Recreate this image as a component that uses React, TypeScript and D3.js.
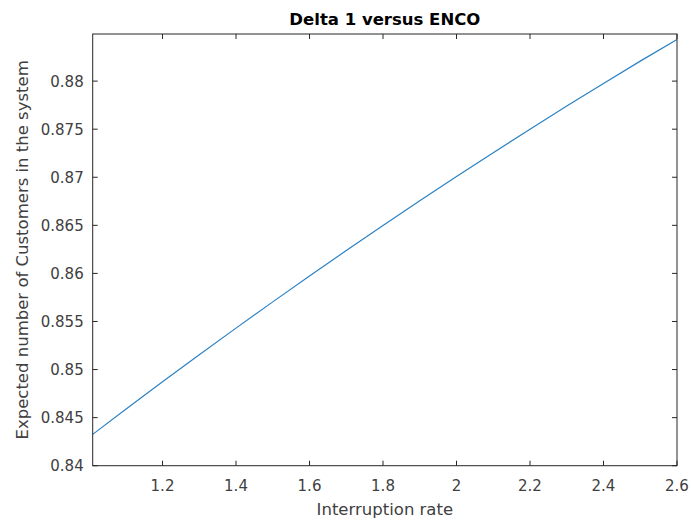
import React, { useEffect, useRef } from 'react';
import * as d3 from 'd3';

// Interruption rate (x) and expected number of customers (y)
const rates = [1.01, 1.1, 1.2, 1.3, 1.4, 1.5, 1.6, 1.7, 1.8, 1.9, 2.0, 2.1, 2.2, 2.3, 2.4, 2.5, 2.6];
const customers = [
  0.84326, 0.84588, 0.84873, 0.85154, 0.85431, 0.85704, 0.85973, 0.86238, 0.86499,
  0.86756, 0.87008, 0.87256, 0.875, 0.8774, 0.87976, 0.88208, 0.88432,
];
const xTicks = [1.2, 1.4, 1.6, 1.8, 2, 2.2, 2.4, 2.6];
const yTicks = [0.84, 0.845, 0.85, 0.855, 0.86, 0.865, 0.87, 0.875, 0.88];

const App = () => {
  const ref = useRef<SVGSVGElement>(null);

  useEffect(() => {
    document.body.style.margin = '0';
    const svg = d3.select(ref.current);
    svg.selectAll('*').remove();

    const width = 691;
    const height = 525;
    const left = 92.7, right = 677, top = 34, bottom = 465.7;
    const font = '"DejaVu Sans", Verdana, sans-serif';
    const axisColor = '#262626';
    const textColor = '#404040';

    const x = d3.scaleLinear().domain([1.01, 2.6]).range([left, right]);
    const y = d3.scaleLinear().domain([0.84, 0.8849]).range([bottom, top]);

    svg.append('rect').attr('width', width).attr('height', height).attr('fill', 'white');

    // data line
    const line = d3.line<number>()
      .x((_, i) => x(rates[i]))
      .y(d => y(d))
      .curve(d3.curveMonotoneX);
    svg.append('path')
      .datum(customers)
      .attr('d', line)
      .attr('fill', 'none')
      .attr('stroke', '#2a82c4')
      .attr('stroke-width', 1.2);

    // box
    svg.append('rect')
      .attr('x', left).attr('y', top)
      .attr('width', right - left).attr('height', bottom - top)
      .attr('fill', 'none')
      .attr('stroke', axisColor)
      .attr('stroke-width', 1);

    const tl = 5;
    // x ticks (bottom & top, inward)
    xTicks.forEach(t => {
      const px = x(t);
      svg.append('line').attr('x1', px).attr('x2', px).attr('y1', bottom).attr('y2', bottom - tl)
        .attr('stroke', axisColor);
      svg.append('line').attr('x1', px).attr('x2', px).attr('y1', top).attr('y2', top + tl)
        .attr('stroke', axisColor);
      svg.append('text')
        .attr('x', px).attr('y', bottom + 25)
        .attr('text-anchor', 'middle')
        .attr('font-family', font).attr('font-size', 15)
        .attr('fill', textColor)
        .text(d3.format('~g')(t));
    });

    // y ticks (left & right, inward)
    yTicks.forEach(t => {
      const py = y(t);
      svg.append('line').attr('x1', left).attr('x2', left + tl).attr('y1', py).attr('y2', py)
        .attr('stroke', axisColor);
      svg.append('line').attr('x1', right).attr('x2', right - tl).attr('y1', py).attr('y2', py)
        .attr('stroke', axisColor);
      svg.append('text')
        .attr('x', left - 9).attr('y', py + 5.5)
        .attr('text-anchor', 'end')
        .attr('font-family', font).attr('font-size', 15)
        .attr('fill', textColor)
        .text(d3.format('~g')(t));
    });

    // title
    svg.append('text')
      .attr('x', (left + right) / 2).attr('y', 25)
      .attr('text-anchor', 'middle')
      .attr('font-family', font).attr('font-size', 16.5).attr('font-weight', 'bold')
      .attr('fill', '#000')
      .text('Delta 1 versus ENCO');

    // x label
    svg.append('text')
      .attr('x', (left + right) / 2).attr('y', 515)
      .attr('text-anchor', 'middle')
      .attr('font-family', font).attr('font-size', 16.5)
      .attr('fill', textColor)
      .text('Interruption rate');

    // y label
    svg.append('text')
      .attr('transform', `translate(28, ${(top + bottom) / 2}) rotate(-90)`)
      .attr('text-anchor', 'middle')
      .attr('font-family', font).attr('font-size', 16.5)
      .attr('fill', textColor)
      .text('Expected number of Customers in the system');
  }, []);

  return <svg ref={ref} width={691} height={525} style={{ display: 'block' }} />;
};

export default App;
